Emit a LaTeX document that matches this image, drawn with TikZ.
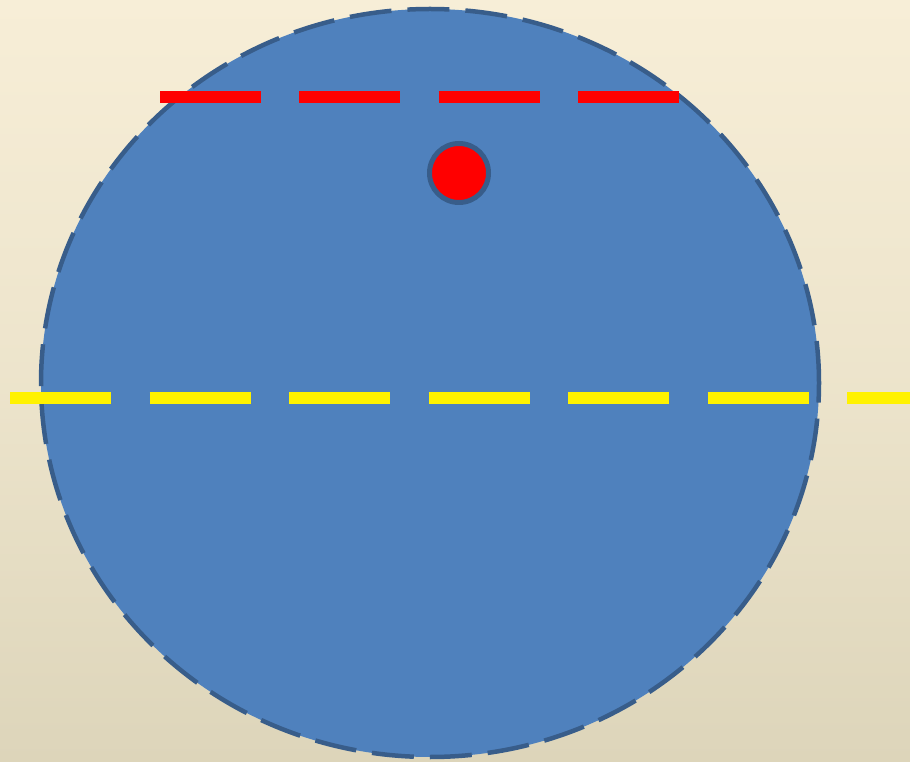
\documentclass[tikz,border=0pt]{standalone}
\begin{document}
\begin{tikzpicture}[x=1pt,y=1pt,
  bigball/.style={fill=ballblue,draw=rimblue,line width=4.5pt,dash pattern=on 42pt off 16pt},
  reddash/.style={draw=red,line width=12pt,dash pattern=on 101pt off 38.3pt},
  yellowdash/.style={draw=yellow,line width=12pt,dash pattern=on 101pt off 38.5pt},
  dot/.style={circle,fill=red,draw=rimblue,line width=5pt,minimum size=59pt,inner sep=0pt}]
\definecolor{ballblue}{HTML}{4F81BD}
\definecolor{rimblue}{HTML}{385D8A}
\definecolor{bgtop}{HTML}{F7EED7}
\definecolor{bgbot}{HTML}{DDD5BA}
\shade[top color=bgtop,bottom color=bgbot,middle color=bgtop!60!bgbot] (0,0) rectangle (910,761);
\useasboundingbox (0,0) rectangle (910,761);
\path[bigball] (430,378) ellipse [x radius=389, y radius=374];
\coordinate (r1) at (160,664);
\coordinate (r2) at (680,664);
\draw[reddash] (r1) -- (r2);
\coordinate (y1) at (10,363);
\coordinate (y2) at (920,363);
\draw[yellowdash] (y1) -- (y2);
\node[dot] (d) at (459,588) {};
\end{tikzpicture}
\end{document}
